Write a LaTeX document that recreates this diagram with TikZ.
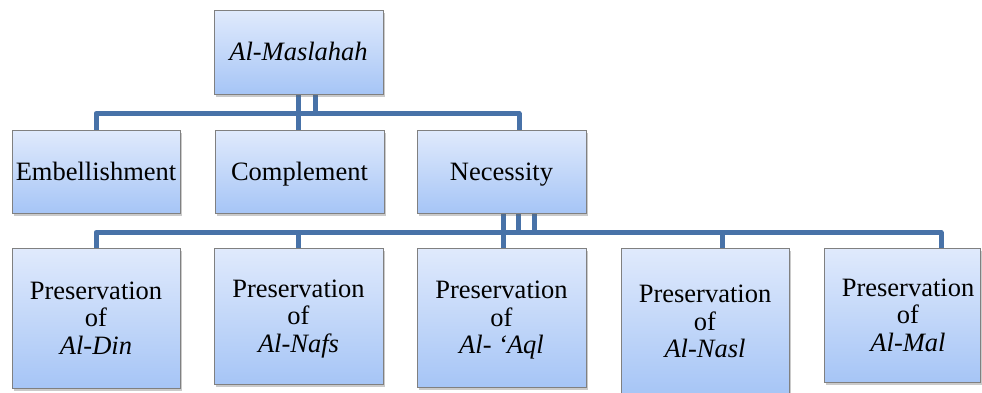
\documentclass[tikz,border=0pt]{standalone}
\usepackage{fontspec}
\setmainfont{Liberation Serif}
\usetikzlibrary{shadows,backgrounds}
\definecolor{boxtop}{RGB}{224,234,252}
\definecolor{boxbot}{RGB}{166,197,246}
\definecolor{conncol}{RGB}{72,114,168}
\definecolor{edgecol}{RGB}{128,128,128}
\newcommand\boxlbl[1]{\raisebox{-3pt}[\height][\depth]{\begin{tabular}{@{}c@{}}#1\end{tabular}}}
\begin{document}
\begin{tikzpicture}[x=1pt,y=-1pt,
  box/.style={draw=edgecol, line width=0.8pt, top color=boxtop, bottom color=boxbot,
    align=center, inner sep=0pt, font=\fontsize{26.5}{27.5}\selectfont,
    drop shadow={shadow xshift=1.5pt, shadow yshift=-2.5pt, opacity=0.35, fill=black!60}},
  link/.style={draw=conncol, line width=5pt, line join=round}]
\useasboundingbox (0,0) rectangle (982,392);
% level 0
\node[box, minimum width=169pt, minimum height=84pt] (top) at (298.5,52) {\boxlbl{\textit{Al-Maslahah}}};
% level 1
\node[box, minimum width=168pt, minimum height=83pt] (emb) at (96,171.5) {\boxlbl{Embellishment}};
\node[box, minimum width=169pt, minimum height=83pt] (comp) at (299.5,171.5) {\boxlbl{Complement}};
\node[box, minimum width=169pt, minimum height=83pt] (nec) at (501.5,171.5) {\boxlbl{Necessity}};
% level 2
\node[box, minimum width=168pt, minimum height=140pt] (din) at (96,318) {\boxlbl{Preservation\\of\\\textit{Al-Din}}};
\node[box, minimum width=169pt, minimum height=136pt] (nafs) at (298.5,316) {\boxlbl{Preservation\\of\\\textit{Al-Nafs}}};
\node[box, minimum width=169pt, minimum height=139pt] (aql) at (501.5,317.5) {\boxlbl{Preservation\\of\\\textit{Al- ‘Aql}}};
\node[box, minimum width=168pt, minimum height=147pt] (nasl) at (705,321.5) {\boxlbl{Preservation\\of\\\textit{Al-Nasl}}};
\node[box, minimum width=156pt, minimum height=134pt] (mal) at (902,315)
  {\hspace*{12pt}\boxlbl{Preservation\\of\\\textit{Al-Mal}}};
\begin{scope}[on background layer]
\draw[link] ([xshift=16.5pt]top.south) -- ++(0,19) -| (emb.north);
\draw[link] ([xshift=-0.5pt]top.south) -- ([xshift=-1.5pt]comp.north);
\draw[link] ([xshift=-0.5pt]top.south) -- ++(0,19) -| ([xshift=17.5pt]nec.north);
\draw[link] ([xshift=32.5pt]nec.south) -- ++(0,19) -| (din.north);
\draw[link] ([xshift=16.5pt]nec.south) -- ++(0,19) -| (nafs.north);
\draw[link] ([xshift=1.5pt]nec.south) -- ([xshift=1.5pt]aql.north);
\draw[link] ([xshift=1.5pt]nec.south) -- ++(0,19) -| ([xshift=17pt]nasl.north);
\draw[link] ([xshift=1.5pt]nec.south) -- ++(0,19) -| ([xshift=39pt]mal.north);
\end{scope}
\end{tikzpicture}
\end{document}
